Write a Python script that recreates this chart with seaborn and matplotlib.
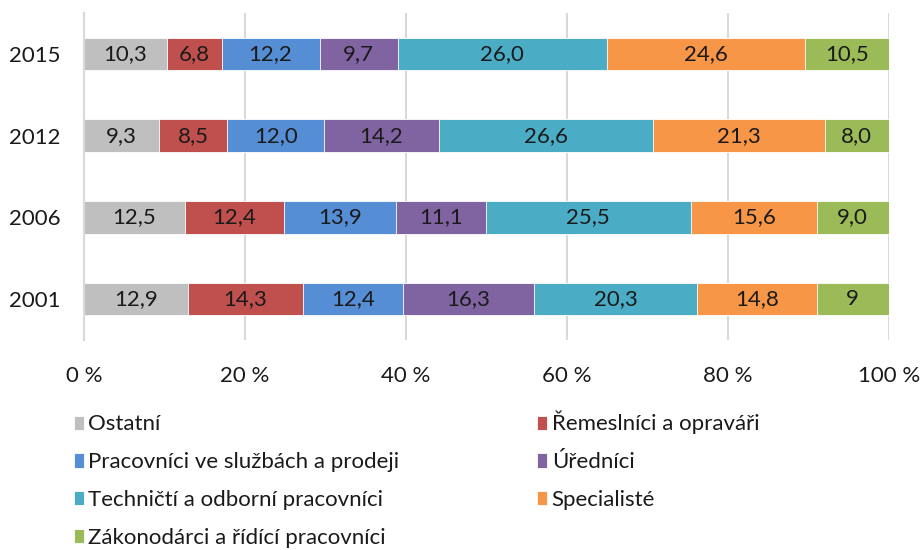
import seaborn as sns
import matplotlib.pyplot as plt
import numpy as np
import pandas as pd

years = ['2015', '2012', '2006', '2001']
categories = ['Ostatní', 'Řemeslníci a opraváři', 'Pracovníci ve službách a prodeji',
              'Úředníci', 'Techničtí a odborní pracovníci', 'Specialisté',
              'Zákonodárci a řídící pracovníci']
ostatni = [10.3, 9.3, 12.5, 12.9]
remeslnici = [6.8, 8.5, 12.4, 14.3]
sluzby = [12.2, 12.0, 13.9, 12.4]
urednici = [9.7, 14.2, 11.1, 16.3]
technicti = [26.0, 26.6, 25.5, 20.3]
specialiste = [24.6, 21.3, 15.6, 14.8]
zakonodarci = [10.5, 8.0, 9.0, 9.0]
# the 2001 value is printed as "9" in the source
labels_2001_last = '9'

colors = ['#BFBFBF', '#C0504D', '#558ED5', '#8064A2', '#4BACC6', '#F79646', '#9BBB59']

sns.set_theme(style='white')
plt.rcParams['font.family'] = ['Lato', 'DejaVu Sans']

vals = np.array([ostatni, remeslnici, sluzby, urednici, technicti, specialiste, zakonodarci])
# 100 % stacked
pct = vals / vals.sum(axis=0) * 100
cum = pct.cumsum(axis=0)

fig = plt.figure(figsize=(9.23, 5.5), dpi=100)
ax = fig.add_axes([84 / 923, 1 - 340 / 550, 805 / 923, 327 / 550])

# draw cumulative bars from the widest down so every segment shows
for i in reversed(range(len(categories))):
    df = pd.DataFrame({'year': years, 'value': cum[i]})
    sns.barplot(data=df, x='value', y='year', order=years, orient='h',
                color=colors[i], width=0.4, saturation=1, ax=ax,
                edgecolor='white', linewidth=0.6, label=categories[i])

# value labels
for i in range(len(categories)):
    for j, y in enumerate(years):
        txt = f'{vals[i, j]:.1f}'.replace('.', ',')
        if y == '2001' and i == len(categories) - 1:
            txt = labels_2001_last
        ax.text(cum[i, j] - pct[i, j] / 2, j, txt, ha='center', va='center',
                fontsize=16, color='#1a1a1a')

ax.set_xlim(0, 100)
ax.set_ylim(3.5, -0.5)
ax.set_xticks(range(0, 101, 20))
ax.set_xticklabels([f'{t} %' for t in range(0, 101, 20)])
ax.set_xlabel('')
ax.set_ylabel('')
ax.xaxis.grid(True, color='#D9D9D9', linewidth=1.5)
ax.set_axisbelow(True)
for s in ['top', 'right', 'bottom']:
    ax.spines[s].set_visible(False)
ax.spines['left'].set_color('#D9D9D9')
ax.spines['left'].set_linewidth(1.5)
ax.tick_params(axis='x', length=0, pad=19, labelsize=16, colors='#1a1a1a')
ax.tick_params(axis='y', length=0, pad=17, labelsize=16, colors='#1a1a1a')

# legend fills row by row in the reference: reorder for column-wise filling
handles, labs = ax.get_legend_handles_labels()
by_label = dict(zip(labs, handles))
leg_order = [0, 2, 4, 6, 1, 3, 5]
ax.legend([by_label[categories[k]] for k in leg_order],
          [categories[k] for k in leg_order], loc='upper left',
          bbox_to_anchor=(74 / 923, 1 - 411 / 550), bbox_transform=fig.transFigure,
          ncol=2, frameon=False, fontsize=16, handlelength=0.45, handleheight=0.6,
          handletextpad=0.2, labelspacing=0.8, columnspacing=6.2, borderaxespad=0,
          borderpad=0, labelcolor='#1a1a1a')

fig.savefig('out.png', dpi=100)
